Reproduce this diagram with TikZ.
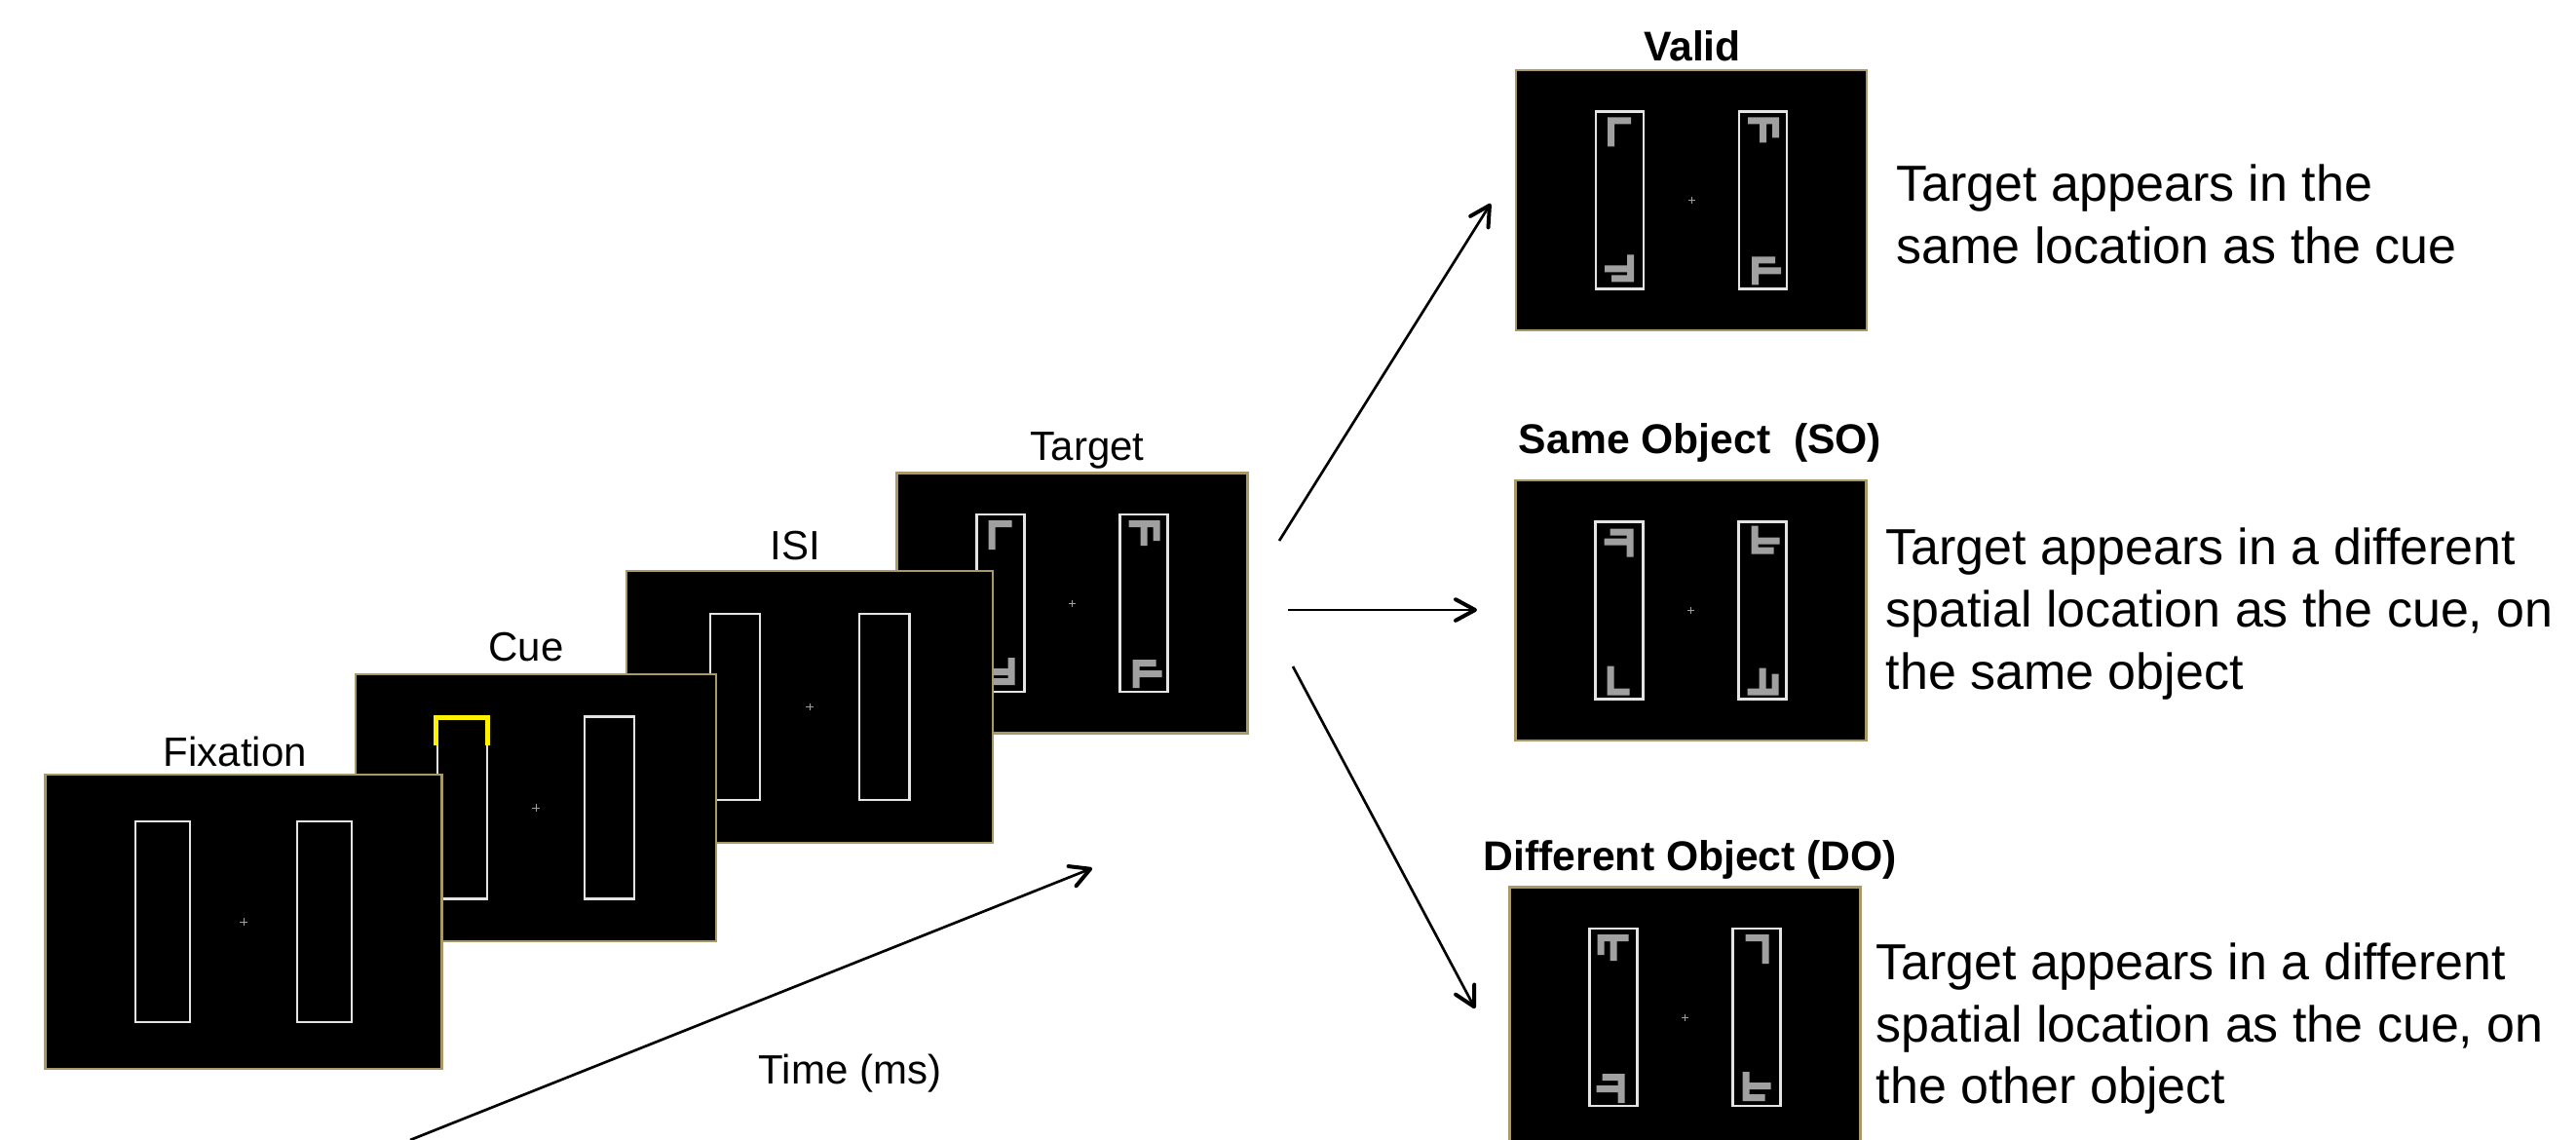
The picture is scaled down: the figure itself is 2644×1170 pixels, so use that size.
\documentclass[tikz,border=0pt]{standalone}
\usepackage{fontspec}
\setmainfont{Liberation Sans}
\usetikzlibrary{arrows.meta}

\definecolor{frame}{RGB}{168,153,103}
\definecolor{outline}{RGB}{228,228,228}
\definecolor{glyphgray}{RGB}{160,160,160}
\definecolor{cueyellow}{RGB}{255,242,0}

% one display: black screen, two placeholder boxes, fixation cross
\newcommand{\drawscreen}{%
  \path[screen] (-180,-133.5) rectangle (180,133.5);
  \draw[placeholder] (-98,-91) rectangle (-49,91);
  \draw[placeholder] (49,-91) rectangle (98,91);
  \draw[fixcross] (-3.5,0) -- (3.5,0) (0,-3.5) -- (0,3.5);
}

% letter stimuli of the valid (and target) display
\newcommand{\validglyphs}{%
  \fill[glyph] (-86,-85) rectangle (-62,-78) (-86,-85) rectangle (-79,-55);
  \fill[glyph] (58,-85) rectangle (90,-78) (70,-85) rectangle (77,-59) (83,-85) rectangle (90,-64);
  \fill[glyph] (-66,56) rectangle (-59,84) (-89,67) rectangle (-59,74) (-82,77) rectangle (-59,84);
  \fill[glyph] (62,58) rectangle (69,87) (62,58) rectangle (86,65) (62,69) rectangle (92,76);
}
% letter stimuli of the same-object display
\newcommand{\soglyphs}{%
  \fill[glyph] (-66,-84) rectangle (-59,-55) (-83,-84) rectangle (-59,-77) (-89,-74) rectangle (-59,-67);
  \fill[glyph] (62,-87) rectangle (69,-58) (62,-75) rectangle (91,-68) (62,-65) rectangle (85,-58);
  \fill[glyph] (-86,57) rectangle (-79,87) (-86,80) rectangle (-63,87);
  \fill[glyph] (58,80) rectangle (90,87) (70,59) rectangle (77,87) (83,65) rectangle (90,87);
}
% letter stimuli of the different-object display
\newcommand{\doglyphs}{%
  \fill[glyph] (-90,-85) rectangle (-58,-78) (-77,-85) rectangle (-70,-58) (-90,-85) rectangle (-83,-64);
  \fill[glyph] (62,-85) rectangle (86,-78) (79,-85) rectangle (86,-55);
  \fill[glyph] (-69,58) rectangle (-62,88) (-85,58) rectangle (-62,65) (-91,70) rectangle (-62,77);
  \fill[glyph] (59,56) rectangle (66,86) (59,67) rectangle (88,74) (59,79) rectangle (82,86);
}

\begin{document}
\begin{tikzpicture}[x=0.3pt, y=-0.3pt,
  screen/.style={fill=black, draw=frame, line width=0.75pt},
  placeholder/.style={draw=outline, line width=0.65pt},
  glyph/.style={fill=glyphgray},
  fixcross/.style={draw=glyphgray, line width=0.3pt},
  cuemark/.style={draw=cueyellow, line width=1.5pt},
  framelabel/.style={font=\fontsize{12.6}{15}\selectfont, inner sep=0pt, anchor=base},
  condtitle/.style={font=\bfseries\fontsize{12.8}{15}\selectfont, inner sep=0pt, anchor=base},
  desc/.style={font=\fontsize{15.6}{19}\selectfont, inner sep=0pt, anchor=base west},
  flow/.style={line width=0.8pt, -{Straight Barb[length=6pt,width=6.5pt,line width=1.2pt,round]}},
]
\useasboundingbox (0,0) rectangle (2644,1170);
\fill[white] (0,0) rectangle (2644,1170);

% trial sequence, back to front
\begin{scope}[shift={(1100.5,619)}]
  \drawscreen \validglyphs
\end{scope}
\begin{scope}[shift={(831,725.5)}, scale=1.045]
  \drawscreen
\end{scope}
\begin{scope}[shift={(550,829)}, scale=1.027]
  \drawscreen
  \draw[cuemark] (-99.5,-62) -- (-99.5,-90) -- (-48.5,-90) -- (-48.5,-62);
\end{scope}
\begin{scope}[shift={(250,946)}, scale=1.13]
  \drawscreen
\end{scope}

% the three target conditions
\begin{scope}[shift={(1736,205.5)}]
  \drawscreen \validglyphs
\end{scope}
\begin{scope}[shift={(1735.5,626.5)}]
  \drawscreen \soglyphs
\end{scope}
\begin{scope}[shift={(1729.5,1044)}]
  \drawscreen \doglyphs
\end{scope}

% frame labels
\node[framelabel] (lfix) at (241.5,786) {Fixation};
\node[framelabel] (lcue) at (540,678) {Cue};
\node[framelabel] (lisi) at (816.5,574) {ISI};
\node[framelabel] (ltgt) at (1116,472) {Target};
\node[framelabel] (ltime) at (872.5,1112) {Time (ms)};

% condition titles
\node[condtitle] (tvalid) at (1737,63) {Valid};
\node[condtitle] (tso) at (1745,465) {Same Object~~(SO)};
\node[condtitle] (tdo) at (1735,893) {Different Object (DO)};

% condition descriptions
\node[desc] (dv1) at (1946,207) {Target appears in the};
\node[desc] (dv2) at (1946,271) {same location as the cue};
\node[desc] (ds1) at (1935,579) {Target appears in a different};
\node[desc] (ds2) at (1935,643) {spatial location as the cue, on};
\node[desc] (ds3) at (1935,707) {the same object};
\node[desc] (dd1) at (1925,1005) {Target appears in a different};
\node[desc] (dd2) at (1925,1069) {spatial location as the cue, on};
\node[desc] (dd3) at (1925,1132) {the other object};

% arrows
\coordinate (timeA) at (421,1170);
\coordinate (timeB) at (1121,891);
\coordinate (fanV) at (1313,555);
\coordinate (inV) at (1530,209);
\coordinate (fanS) at (1322,626);
\coordinate (inS) at (1516,626);
\coordinate (fanD) at (1327,684);
\coordinate (inD) at (1514,1035);
\draw[flow] (timeA) -- (timeB);
\draw[flow] (fanV) -- (inV);
\draw[flow] (fanS) -- (inS);
\draw[flow] (fanD) -- (inD);
\end{tikzpicture}
\end{document}
